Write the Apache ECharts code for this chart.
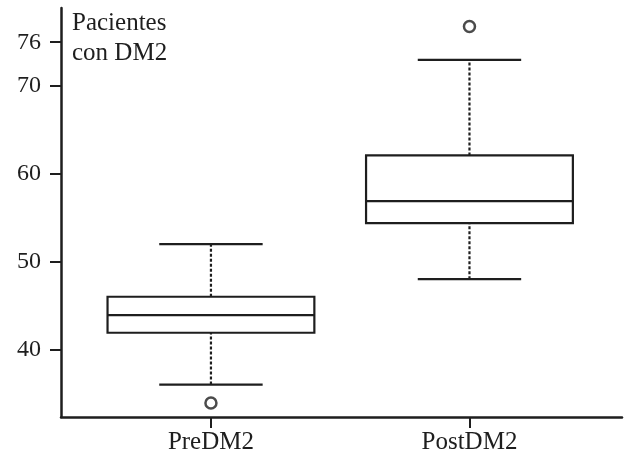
<!DOCTYPE html>
<html>
<head>
<meta charset="utf-8">
<script src="https://cdn.jsdelivr.net/npm/echarts@6/dist/echarts.min.js"></script>
<style>
  html, body { margin: 0; padding: 0; background: #fff; }
  #chart { width: 625px; height: 457px; }
</style>
</head>
<body>
<div id="chart"></div>
<script>
// box summaries per group
const categories = ['PreDM2', 'PostDM2'];
const whiskerLow = [36, 48];
const q1 = [41.9, 54.4];
const median = [43.9, 56.9];
const q3 = [46.0, 62.1];
const whiskerHigh = [52, 73];

// outliers (group index, value)
const outlierGroup = [0, 1];
const outlierValue = [33.9, 76.8];

// y axis ticks as printed on the original
const yTickValues = [40, 50, 60, 70, 75];
const yTickLabels = ['40', '50', '60', '70', '76'];

const ink = '#1e1e1e';
const serif = 'Liberation Serif';

const chart = echarts.init(document.getElementById('chart'));

const boxData = categories.map((c, i) => [i + 1, whiskerLow[i], q1[i], median[i], q3[i], whiskerHigh[i]]);
const outlierData = outlierGroup.map((g, i) => [g + 1, outlierValue[i]]);

function renderBox(params, api) {
  const x = api.value(0);
  const lo = api.coord([x, api.value(1)]);
  const b1 = api.coord([x, api.value(2)]);
  const md = api.coord([x, api.value(3)]);
  const b3 = api.coord([x, api.value(4)]);
  const hi = api.coord([x, api.value(5)]);
  const half = api.size([0.4, 0])[0];
  const cap = half / 2;
  const solid = { stroke: ink, lineWidth: 2.2, fill: null };
  const dashed = { stroke: ink, lineWidth: 2.2, lineDash: [3, 2], fill: null };
  return {
    type: 'group',
    children: [
      { type: 'line', shape: { x1: lo[0], y1: lo[1], x2: b1[0], y2: b1[1] }, style: dashed },
      { type: 'line', shape: { x1: b3[0], y1: b3[1], x2: hi[0], y2: hi[1] }, style: dashed },
      { type: 'line', shape: { x1: lo[0] - cap, y1: lo[1], x2: lo[0] + cap, y2: lo[1] }, style: solid },
      { type: 'line', shape: { x1: hi[0] - cap, y1: hi[1], x2: hi[0] + cap, y2: hi[1] }, style: solid },
      { type: 'rect', shape: { x: b3[0] - half, y: b3[1], width: half * 2, height: b1[1] - b3[1] },
        style: { stroke: ink, lineWidth: 2.2, fill: '#fff' } },
      { type: 'line', shape: { x1: md[0] - half, y1: md[1], x2: md[0] + half, y2: md[1] }, style: solid }
    ]
  };
}

const option = {
  animation: false,
  backgroundColor: '#fff',
  title: {
    text: 'Pacientes\ncon DM2',
    left: 67,
    top: 3,
    textStyle: { fontFamily: serif, fontSize: 25, fontWeight: 'normal', lineHeight: 30, color: ink }
  },
  grid: { left: 61, right: 3, top: 8, bottom: 40 },
  xAxis: {
    type: 'value',
    min: 0.42,
    max: 2.59,
    splitLine: { show: false },
    axisLine: { lineStyle: { color: ink, width: 2.5 } },
    axisTick: { customValues: [1, 2], length: 11, lineStyle: { color: ink, width: 2 } },
    axisLabel: {
      customValues: [1, 2],
      formatter: v => categories[Math.round(v) - 1],
      margin: 13,
      fontFamily: serif,
      fontSize: 25,
      color: ink
    }
  },
  yAxis: {
    type: 'value',
    min: 32.3,
    max: 78.9,
    splitLine: { show: false },
    axisLine: { show: true, lineStyle: { color: ink, width: 2.5 } },
    axisTick: { show: true, customValues: yTickValues, length: 11, lineStyle: { color: ink, width: 2 } },
    axisLabel: {
      customValues: yTickValues,
      formatter: v => yTickLabels[yTickValues.indexOf(v)],
      margin: 20,
      fontFamily: serif,
      fontSize: 24,
      color: ink
    }
  },
  series: [
    {
      type: 'custom',
      renderItem: renderBox,
      encode: { x: 0, y: [1, 2, 3, 4, 5] },
      data: boxData
    },
    {
      type: 'scatter',
      symbol: 'circle',
      symbolSize: 11,
      itemStyle: { color: '#fff', borderColor: ink, borderWidth: 2.5 },
      data: outlierData
    }
  ]
};

chart.setOption(option);
</script>
</body>
</html>
